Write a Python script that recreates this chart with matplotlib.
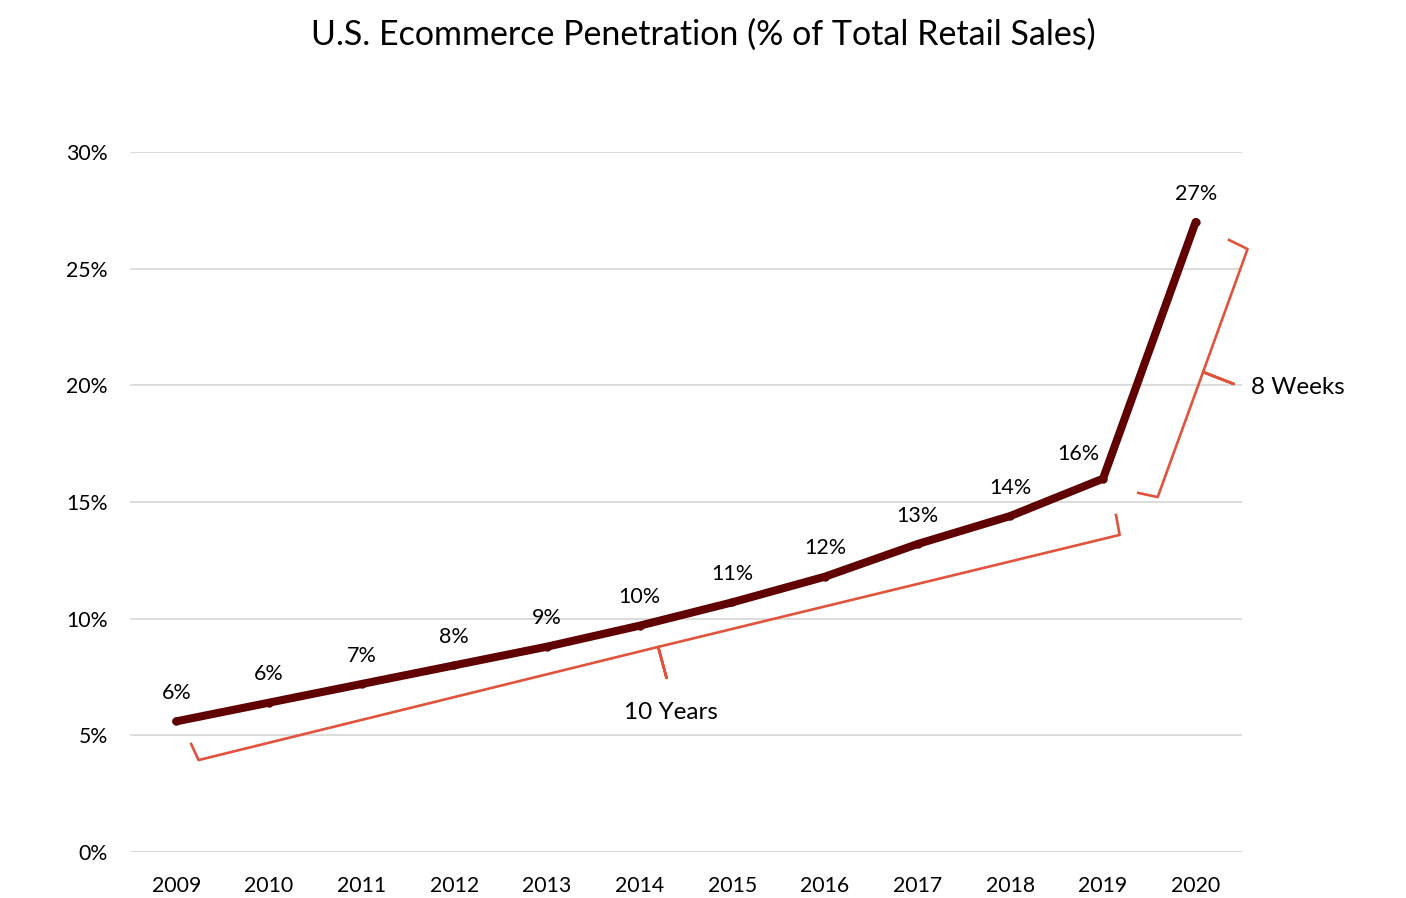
import matplotlib.pyplot as plt
import numpy as np

plt.rcParams['font.family'] = ['Lato', 'DejaVu Sans']

years = ['2009', '2010', '2011', '2012', '2013', '2014',
         '2015', '2016', '2017', '2018', '2019', '2020']
penetration = [5.6, 6.4, 7.2, 8.0, 8.8, 9.7, 10.7, 11.8, 13.2, 14.4, 16.0, 27.0]
yticks = [0, 5, 10, 15, 20, 25, 30]

# brace outlines (x in category index, y in %)
brace_10y = [(0.16, 4.63), (0.24, 3.94), (5.20, 8.79), (5.29, 7.46),
             (5.20, 8.79), (10.18, 13.59), (10.14, 14.44)]
brace_8w = [(11.36, 26.23), (11.56, 25.84), (11.08, 20.57), (11.41, 20.06),
            (11.08, 20.57), (10.59, 15.21), (10.38, 15.39)]

line_col = '#600000'
brace_col = '#E0533D'

fig = plt.figure(figsize=(14.06, 8.98), dpi=100)
ax = fig.add_axes([130/1406, 1-852/898, 1112/1406, 700/898])

x = np.arange(len(years))
ax.plot(x, penetration, color=line_col, lw=5.8, solid_capstyle='round',
        solid_joinstyle='round', marker='o', ms=5, zorder=3)
for i, (xi, v) in enumerate(zip(x, penetration)):
    off = (-18, 18) if years[i] == '2019' else (0, 20.5)
    ax.annotate(f'{round(v):.0f}%', (xi, v), xytext=off, textcoords='offset points',
                ha='center', va='center', fontsize=15.5)

for pts in (brace_10y, brace_8w):
    bx, by = zip(*pts)
    ax.plot(bx, by, color=brace_col, lw=1.9, clip_on=False, zorder=2,
            solid_joinstyle='round')

ax.text(5.34, 5.96, '10 Years', ha='center', va='center', fontsize=17.5)
ax.text(11.60, 19.89, '8 Weeks', ha='left', va='center', fontsize=17.5, clip_on=False)

ax.set_xlim(-0.5, 11.5)
ax.set_ylim(0, 30)
ax.set_xticks(x)
ax.set_xticklabels(years)
ax.set_yticks(yticks)
ax.set_yticklabels([f'{t}%' for t in yticks])
ax.tick_params(length=0, labelsize=15.3)
ax.tick_params(axis='x', pad=17)
ax.tick_params(axis='y', pad=16)
ax.grid(axis='y', color='#D9D9D9', lw=1.3)
ax.set_axisbelow(True)
for s in ax.spines.values():
    s.set_visible(False)

fig.text(0.5, 1-35/898, 'U.S. Ecommerce Penetration (% of Total Retail Sales)',
         ha='center', va='center', fontsize=24.5)

fig.savefig('out.png', dpi=100)
